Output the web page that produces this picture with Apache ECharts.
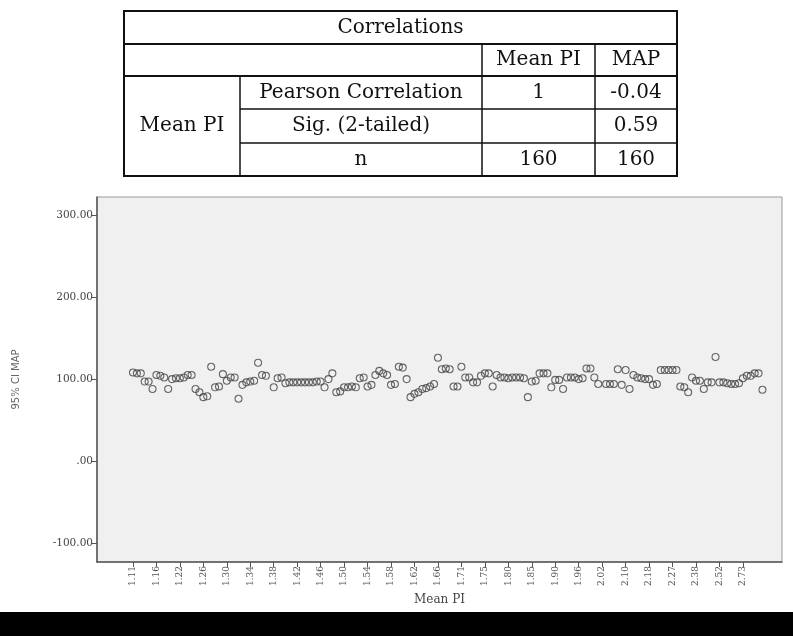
<!DOCTYPE html>
<html><head><meta charset="utf-8">
<script src="https://cdn.jsdelivr.net/npm/echarts@6/dist/echarts.min.js"></script>
<style>html,body{margin:0;padding:0;background:#fff}#c{width:793px;height:636px}</style>
</head><body><div id="c"></div>
<script>
// ---- Table data ----
const tableTitle = 'Correlations';
const tableHeader = ['Mean PI', 'MAP'];
const rowGroup = 'Mean PI';
const rowLabels = ['Pearson Correlation', 'Sig. (2-tailed)', 'n'];
const colMeanPI = ['1', '', '160'];
const colMAP = ['-0.04', '0.59', '160'];

// ---- Scatter data ----
const xAxisTitle = 'Mean PI';
const yAxisTitle = '95% CI MAP';
const xTickLabels = ['1.11','1.16','1.22','1.26','1.30','1.34','1.38','1.42','1.46','1.50','1.54','1.58','1.62','1.66',
  '1.71','1.75','1.80','1.85','1.90','1.96','2.02','2.10','2.18','2.27','2.38','2.52','2.73'];
const labelEvery = 6;
const yTicks = [-100, 0, 100, 200, 300];
// one entry per x position (Mean PI category order); null = no case at that slot
const mapValues = [
  108,107,107,97,97,88,105,104,102,88,
  100,101,101,102,105,105,88,84,78,79,
  115,90,91,106,98,102,102,76,93,96,
  97,98,120,105,104,null,90,101,102,95,
  96,96,96,96,96,96,96,97,97,90,
  100,107,84,85,90,90,91,90,101,102,
  91,93,105,110,107,105,93,94,115,114,
  100,78,82,84,88,89,91,94,126,112,
  113,112,91,91,115,102,102,96,96,104,
  107,107,91,105,102,102,101,102,102,102,
  101,78,97,98,107,107,107,90,99,99,
  88,102,102,102,100,101,113,113,102,94,
  null,94,94,94,112,93,111,88,105,102,
  101,100,100,93,94,111,111,111,111,111,
  91,90,84,102,98,98,88,96,96,127,
  96,96,95,94,94,95,101,104,104,107,
  107,87
];

const points = [];
mapValues.forEach((v, i) => { if (v !== null) points.push([i, v]); });
const tickIdx = xTickLabels.map((_, k) => k * labelEvery);

// ---- Table graphic ----
const T = { x: [124, 240, 482, 595, 677], y: [11, 44, 76, 109, 143, 176] };
const font = '20px "DejaVu Serif", serif';
const g = [];
function line(x1, y1, x2, y2, w) {
  g.push({ type: 'line', shape: { x1, y1, x2, y2 }, style: { stroke: '#111', lineWidth: w || 1.5 } });
}
function txt(s, cx, cy) {
  g.push({ type: 'text', x: cx, y: cy, style: { text: s, font, fill: '#111', align: 'center', verticalAlign: 'middle' } });
}
g.push({ type: 'rect', shape: { x: T.x[0], y: T.y[0], width: T.x[4] - T.x[0], height: T.y[5] - T.y[0] }, style: { fill: 'none', stroke: '#111', lineWidth: 2 } });
line(T.x[0], T.y[1], T.x[4], T.y[1], 2);
line(T.x[0], T.y[2], T.x[4], T.y[2], 2);
line(T.x[1], T.y[3], T.x[4], T.y[3], 1.5);
line(T.x[1], T.y[4], T.x[4], T.y[4], 1.5);
line(T.x[1], T.y[2], T.x[1], T.y[5], 1.5);
line(T.x[2], T.y[1], T.x[2], T.y[5], 1.5);
line(T.x[3], T.y[1], T.x[3], T.y[5], 1.5);
txt(tableTitle, (T.x[0] + T.x[4]) / 2, (T.y[0] + T.y[1]) / 2);
txt(tableHeader[0], (T.x[2] + T.x[3]) / 2, (T.y[1] + T.y[2]) / 2);
txt(tableHeader[1], (T.x[3] + T.x[4]) / 2, (T.y[1] + T.y[2]) / 2);
txt(rowGroup, (T.x[0] + T.x[1]) / 2, (T.y[2] + T.y[5]) / 2);
rowLabels.forEach((r, i) => {
  const cy = (T.y[2 + i] + T.y[3 + i]) / 2;
  txt(r, (T.x[1] + T.x[2]) / 2, cy);
  txt(colMeanPI[i], (T.x[2] + T.x[3]) / 2, cy);
  txt(colMAP[i], (T.x[3] + T.x[4]) / 2, cy);
});
// black band at the bottom of the picture
g.push({ type: 'rect', shape: { x: 0, y: 612, width: 793, height: 24 }, style: { fill: '#000' } });

const chart = echarts.init(document.getElementById('c'), null, { renderer: 'canvas' });
chart.setOption({
  animation: false,
  backgroundColor: '#fff',
  grid: { left: 97, top: 197, right: 11, bottom: 74, show: true, backgroundColor: '#f0f0f0', borderColor: '#999', borderWidth: 1 },
  xAxis: {
    type: 'value', min: -9.2, max: 166,
    name: xAxisTitle, nameLocation: 'middle', nameGap: 32,
    nameTextStyle: { fontFamily: 'DejaVu Serif', fontSize: 12, color: '#444' },
    axisLine: { show: true, onZero: false, lineStyle: { color: '#555', width: 1.5 } },
    axisTick: { show: true, length: 5, lineStyle: { color: '#555' }, customValues: tickIdx },
    axisLabel: { customValues: tickIdx, rotate: 90, fontSize: 9, color: '#555', fontFamily: 'DejaVu Serif', margin: 4,
      formatter: v => xTickLabels[Math.round(v / labelEvery)] },
    splitLine: { show: false }
  },
  yAxis: {
    type: 'value', min: -123, max: 322,
    name: yAxisTitle, nameLocation: 'middle', nameGap: 76, nameRotate: 90,
    nameTextStyle: { fontFamily: 'DejaVu Sans', fontSize: 10, color: '#666' },
    axisLine: { show: true, onZero: false, lineStyle: { color: '#555', width: 1.5 } },
    axisTick: { show: true, length: 5, lineStyle: { color: '#555' }, customValues: yTicks },
    axisLabel: { customValues: yTicks, fontSize: 10.5, color: '#444', fontFamily: 'DejaVu Serif', margin: 4,
      formatter: v => v === 0 ? '.00' : v.toFixed(2) },
    splitLine: { show: false }
  },
  series: [{
    type: 'scatter', data: points, symbol: 'circle', symbolSize: 7,
    itemStyle: { color: 'rgba(0,0,0,0)', borderColor: '#444', borderWidth: 1.1 }
  }],
  graphic: g
});
</script></body></html>
